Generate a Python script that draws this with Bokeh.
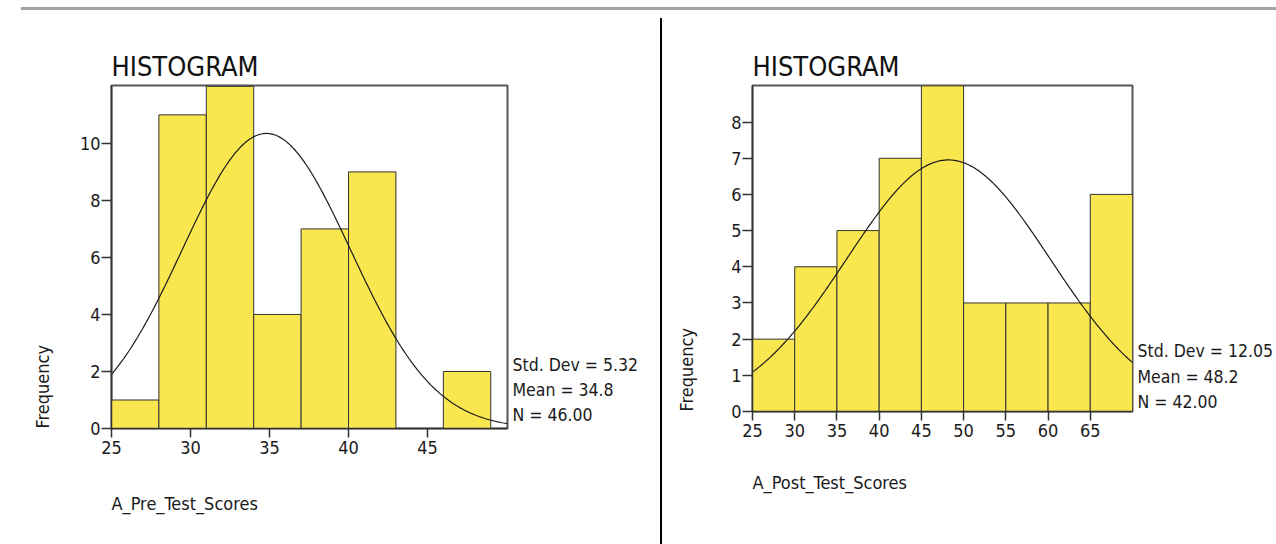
import numpy as np
from bokeh.plotting import figure
from bokeh.models import Div, FixedTicker, LinearAxis, Title
from bokeh.layouts import row, column
from bokeh.embed import file_html
from bokeh.resources import INLINE

# ---------------- data ----------------
pre_edges = [25, 28, 31, 34, 37, 40, 43, 46, 49]
pre_counts = [1, 11, 12, 4, 7, 9, 0, 2]
pre_mean, pre_sd, pre_n = 34.8, 5.32, 46
pre_ticks_x = [25, 30, 35, 40, 45]
pre_ticks_y = [0, 2, 4, 6, 8, 10]

post_edges = [25, 30, 35, 40, 45, 50, 55, 60, 65, 70]
post_counts = [2, 4, 5, 7, 9, 3, 3, 3, 6]
post_mean, post_sd, post_n = 48.2, 12.05, 42
post_ticks_x = [25, 30, 35, 40, 45, 50, 55, 60, 65]
post_ticks_y = [0, 1, 2, 3, 4, 5, 6, 7, 8]

FONT = "DejaVu Sans Condensed"
BAR = "#FAE64E"
TXT = "#1a1a1a"
TICK_FS = "18px"
LAB_FS = "18px"
STAT_FS = "17.5px"


def side_title(text):
    return Title(text=text, align="left", text_font=FONT, text_font_size=LAB_FS,
                 text_font_style="normal", text_color=TXT, standoff=0)


def spacer(size):
    # a blank, tiny title used only to push the axis title outwards
    return Title(text=" ", text_font_size="1px", text_color="white",
                 standoff=size)


def make_hist(edges, counts, mean, sd, n, xr, yr, xt, yt, var_name,
              width, height, borders, stat_ys, ylab_gap, xlab_gap):
    left_b, right_b, top_b, bottom_b = borders
    p = figure(width=width, height=height, x_range=xr, y_range=yr,
               output_backend="svg", toolbar_location=None,
               min_border_left=left_b, min_border_right=right_b,
               min_border_top=top_b, min_border_bottom=bottom_b)
    p.margin = (0, 0, 0, 0)
    p.xgrid.visible = False
    p.ygrid.visible = False
    p.outline_line_color = "#555555"
    p.outline_line_width = 2
    p.background_fill_color = "white"
    p.border_fill_color = "white"

    # title
    p.title.text = "HISTOGRAM"
    p.title.align = "left"
    p.title.text_font = FONT
    p.title.text_font_size = "27px"
    p.title.text_font_style = "normal"
    p.title.text_color = "#111111"
    p.title.standoff = 8

    p.quad(left=edges[:-1], right=edges[1:], bottom=0, top=counts,
           fill_color=BAR, line_color="#333333", line_width=1)

    bw = edges[1] - edges[0]
    xs = np.linspace(xr[0], xr[1], 300)
    ys = n * bw / (sd * np.sqrt(2 * np.pi)) * np.exp(-0.5 * ((xs - mean) / sd) ** 2)
    p.line(xs, ys, line_color="#1a1a1a", line_width=1.2)

    for ax, ticks in ((p.xaxis[0], xt), (p.yaxis[0], yt)):
        ax.ticker = FixedTicker(ticks=ticks)
        ax.minor_tick_line_color = None
        ax.major_tick_in = 0
        ax.axis_line_color = "#333333"
        ax.axis_line_width = 1.5
        ax.major_tick_line_color = "#333333"
        ax.major_tick_line_width = 1.5
        ax.major_label_text_font = FONT
        ax.major_label_text_font_size = TICK_FS
        ax.major_label_text_color = TXT
    p.xaxis.major_tick_out = 9
    p.xaxis.major_label_standoff = 3
    p.yaxis.major_tick_out = 10
    p.yaxis.major_label_standoff = 1

    # axis titles, starting at the low end of each axis
    p.add_layout(spacer(xlab_gap), "below")
    p.add_layout(side_title(var_name), "below")
    p.add_layout(spacer(ylab_gap), "left")
    p.add_layout(side_title("Frequency"), "left")

    # statistics box text, drawn as labels of a bare right-hand axis
    stats = ["Std. Dev = %.2f" % sd, "Mean = %.1f" % mean, "N = %.2f" % n]
    stat_axis = LinearAxis(ticker=FixedTicker(ticks=stat_ys),
                           major_label_overrides=dict(zip(stat_ys, stats)))
    stat_axis.axis_line_color = None
    stat_axis.major_tick_line_color = None
    stat_axis.minor_tick_line_color = None
    stat_axis.major_tick_out = 0
    stat_axis.major_tick_in = 0
    stat_axis.major_label_standoff = 5
    stat_axis.major_label_text_font = FONT
    stat_axis.major_label_text_font_size = STAT_FS
    stat_axis.major_label_text_color = TXT
    p.add_layout(stat_axis, "right")
    return p


# page geometry: row starts 18px from the top
left = make_hist(pre_edges, pre_counts, pre_mean, pre_sd, pre_n,
                 (25, 50.06), (0, 12.03), pre_ticks_x, pre_ticks_y,
                 "A_Pre_Test_Scores", 660, 526, (111, 153, 67, 116),
                 [2.21, 1.333, 0.491], 21, 31)

right = make_hist(post_edges, post_counts, post_mean, post_sd, post_n,
                  (25, 70), (0, 9.01), post_ticks_x, post_ticks_y,
                  "A_Post_Test_Scores", 614, 509, (90, 144, 67, 116),
                  [1.676, 0.948, 0.275], 29, 27)

top_line = Div(text="", width=1255, height=3, margin=(7, 0, 8, 21),
               styles={"background-color": "#a3a3a3"})
divider = Div(text="", width=2, height=526, margin=(0, 0, 0, 0),
              styles={"background-color": "#000000"})

layout = column(top_line, row(left, divider, right, spacing=0), spacing=0)

open("out.html", "w").write(file_html(layout, INLINE))
